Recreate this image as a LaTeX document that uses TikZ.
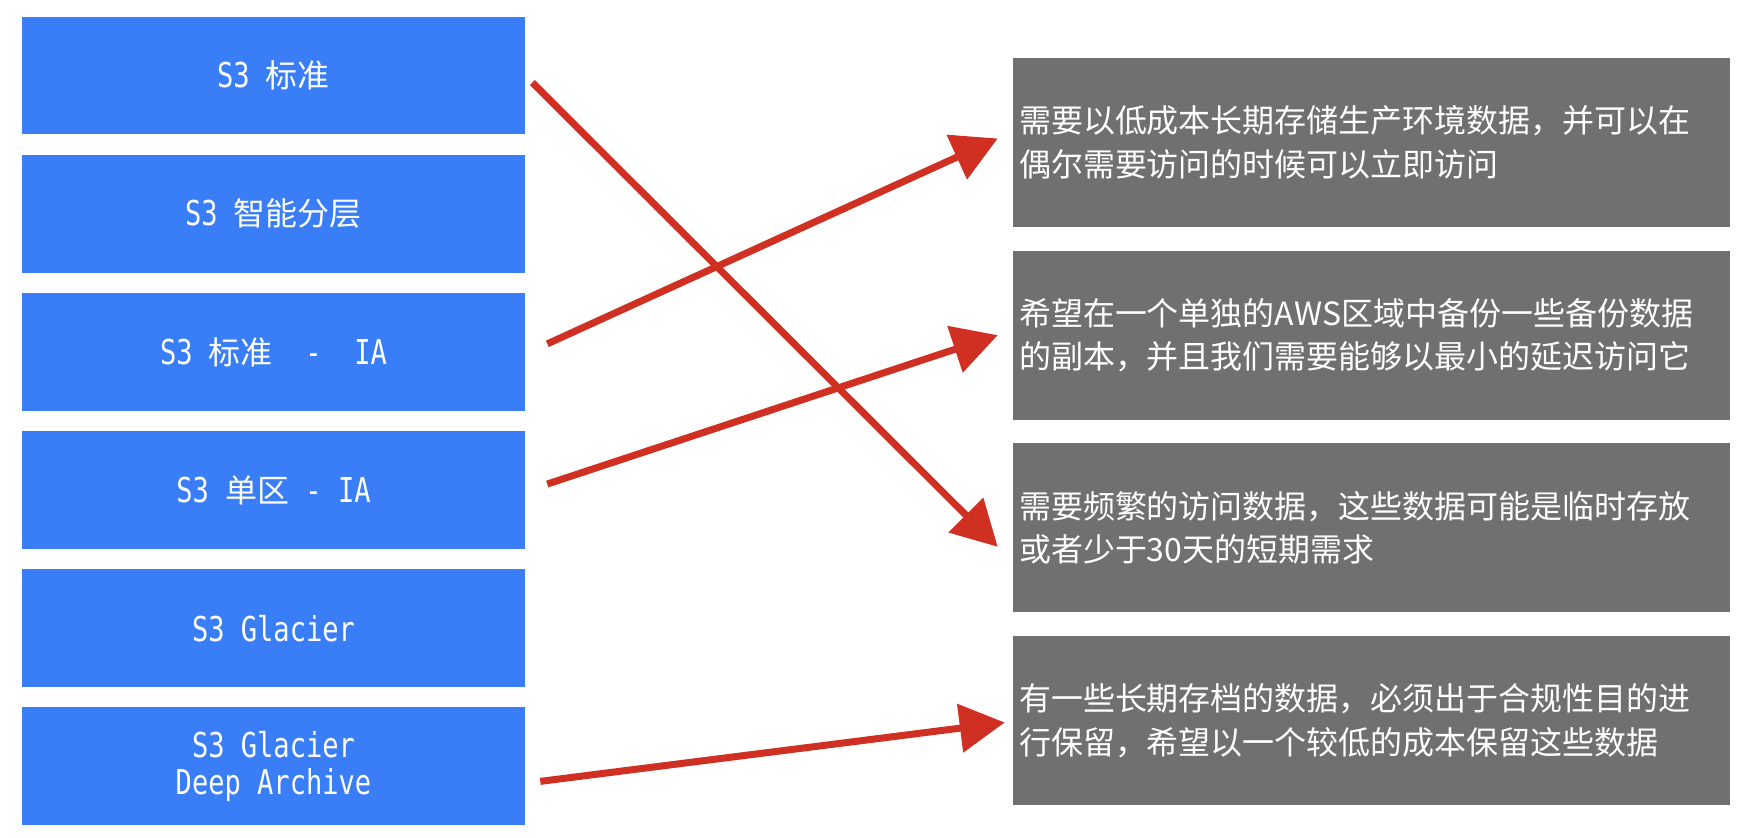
\documentclass[tikz,border=0pt]{standalone}
\usepackage{fontspec}
\usepackage{tikz}
\usetikzlibrary{arrows.meta,positioning,calc}
\newfontfamily\cjk{Noto Sans CJK SC}
\newfontfamily\lmono[FakeStretch=0.79]{DejaVu Sans Mono}
\newcommand{\zh}[1]{{\cjk\fontsize{18.2pt}{21pt}\selectfont #1}}
\definecolor{tierblue}{RGB}{57,126,246}
\definecolor{casegray}{RGB}{112,112,112}
\definecolor{penred}{RGB}{208,48,33}

\begin{document}
\begin{tikzpicture}[
        x=0.02cm, y=-0.02cm,
        tier/.style={fill=tierblue, text=white, minimum width=10.06cm, minimum height=2.36cm, inner sep=0pt, align=center, font=\fontsize{19.5pt}{21pt}\lmono},
        need/.style={fill=casegray, text=white, minimum width=14.34cm, minimum height=3.38cm, inner sep=0pt, text width=14.1cm, align=left, font=\fontsize{18.2pt}{24.8pt}\cjk},
        arr/.style={-{Triangle[length=0.9cm, width=0.95cm]}, line width=0.14cm, draw=penred}
      ]
        \useasboundingbox (0,0) rectangle (1752,838);
        % storage classes
        \node[tier] (std) at (273.5,75.5) {S3 \zh{标准}};
        \node[tier, below=0.39cm of std] (intel) {S3 \zh{智能分层}};
        \node[tier, below=0.39cm of intel] (stdia) {S3 \zh{标准}~ -~ IA};
        \node[tier, below=0.39cm of stdia] (zoneia) {S3 \zh{单区} - IA};
        \node[tier, below=0.39cm of zoneia] (glacier) {S3 Glacier};
        \node[tier, below=0.39cm of glacier] (deep) {S3 Glacier\\Deep Archive};
        % use cases
        \node[need] (prod) at (1371.5,142.5) {需要以低成本长期存储生产环境数据，并可以在\\偶尔需要访问的时候可以立即访问};
        \node[need, below=0.46cm of prod] (backup) {希望在一个单独的AWS区域中备份一些备份数据\\的副本，并且我们需要能够以最小的延迟访问它};
        \node[need, below=0.46cm of backup] (freq) {需要频繁的访问数据，这些数据可能是临时存放\\或者少于30天的短期需求};
        \node[need, below=0.46cm of freq] (archive) {有一些长期存档的数据，必须出于合规性目的进\\行保留，希望以一个较低的成本保留这些数据};
        \draw[arr] ($(std.east)+(7,7)$) -- ($(freq.west)+(-15,19)$);
        \draw[arr] ($(stdia.east)+(22,-8)$) -- ($(prod.west)+(-15,-4)$);
        \draw[arr] ($(zoneia.east)+(22,-6)$) -- ($(backup.west)+(-15,0)$);
        \draw[arr] ($(deep.east)+(15,15)$) -- ($(archive.west)+(-8,2)$);
      \end{tikzpicture}
\end{document}
